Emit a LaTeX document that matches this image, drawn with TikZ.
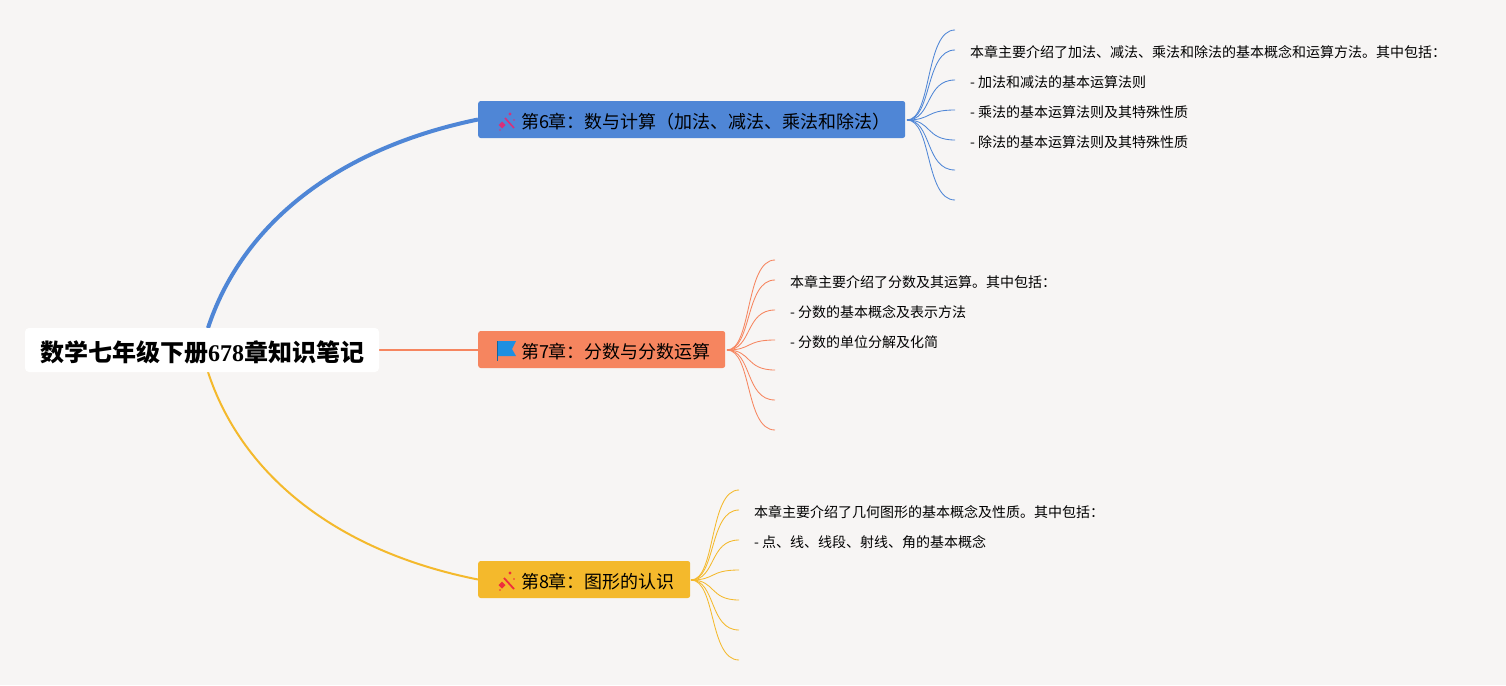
\documentclass[tikz,border=0pt]{standalone}
\usepackage{fontspec}
\setmainfont{Noto Sans CJK SC}
\newfontfamily\titledigits{Liberation Serif}
\definecolor{bgc}{HTML}{F7F5F4}
\definecolor{blueb}{HTML}{4F86D6}
\definecolor{orangeb}{HTML}{F6855F}
\definecolor{yellowb}{HTML}{F4B92C}
\definecolor{flagblue}{HTML}{1E8FE1}
\definecolor{wandpink}{HTML}{D9307A}
\definecolor{wandred}{HTML}{EE2F3C}
\tikzset{
 rootbox/.style={fill=white,rounded corners=4pt,minimum width=354pt,minimum height=44pt,inner sep=0pt},
 roottxt/.style={inner sep=0pt,font=\fontsize{24}{24}\selectfont\bfseries,text=black},
 chapbox/.style={rounded corners=2.5pt,minimum height=37pt,inner sep=0pt,anchor=west,text=black},
 chaptxt/.style={inner sep=0pt,anchor=west,font=\fontsize{18}{18}\selectfont,text=black},
 leaftxt/.style={inner sep=0pt,anchor=west,font=\fontsize{14}{14}\selectfont,text=black},
 leafline/.style={line width=0.85pt}
}
\begin{document}
\begin{tikzpicture}[x=1pt,y=-1pt]
\useasboundingbox (0,0) rectangle (1506,685);
\fill[bgc] (0,0) rectangle (1506,685);
% main branches
\coordinate (rt) at (208,328);
\coordinate (rb) at (208,372);
\coordinate (rr) at (379,350);
\node[chapbox,fill=blueb,minimum width=427pt] (c6) at (478,119.5) {};
\node[chapbox,fill=orangeb,minimum width=247pt] (c7) at (478,349.5) {};
\node[chapbox,fill=yellowb,minimum width=212pt] (c8) at (478,579.5) {};
\draw[blueb,line width=4pt] (rt) .. controls (240,230) and (330,150) .. (c6.west);
\draw[yellowb,line width=2pt] (rb) .. controls (240,470) and (330,550) .. (c8.west);
\draw[orangeb,line width=2pt] (rr) -- (c7.west |- rr);
\node[rootbox] (root) at (202,350) {};
\node[roottxt] (roott) at (202,352) {数学七年级下册{\titledigits 678}章知识笔记};
% chapter labels
\node[chaptxt] (t6) at (521,121.5) {第6\kern-1pt 章：数与计算（加法、减法、乘法和除法）};
\node[chaptxt] (t7) at (521,351.5) {第7\kern-1pt 章：分数与分数运算};
\node[chaptxt] (t8) at (521,581.5) {第8\kern-1pt 章：图形的认识};
% icons
\draw[wandpink,line width=1.6pt] (505,118) -- (514,128);
\fill[wandpink] (498.5,125) -- (502,121.5) -- (505.5,125) -- (502,128.5) -- cycle;
\fill[wandpink] (510,114) circle (1.7pt);
\fill[wandpink] (514,120) circle (0.8pt);
\fill[wandpink] (500,130) circle (0.8pt);
\fill[flagblue] (497,341) -- (516,341) -- (512,349) -- (516,356) -- (498,356) -- cycle;
\fill[flagblue!70!black] (497,341) rectangle (498.2,360.5);
\draw[wandred,line width=1.8pt] (504,578) -- (514,589);
\fill[wandred] (498.5,585) -- (502,581.5) -- (505.5,585) -- (502,588.5) -- cycle;
\fill[wandred] (510,573) circle (1.7pt);
\fill[wandred] (514,579) circle (0.8pt);
\fill[wandred] (500,590) circle (0.8pt);
% blue leaves
\coordinate (c6o) at (907,120);
\foreach \n/\y in {a/30,b/50,c/80,d/110,e/140,f/170,g/200}{
 \coordinate (b\n) at (955,\y);
 \draw[blueb,leafline] (c6o) .. controls (932,120) and (925,\y) .. (b\n);
}
\node[leaftxt] (b1) at (970,52) {本章主要介绍了加法、减法、乘法和除法的基本概念和运算方法。其中包括：};
\node[leaftxt] (b2) at (970,82) {- 加法和减法的基本运算法则};
\node[leaftxt] (b3) at (970,112) {- 乘法的基本运算法则及其特殊性质};
\node[leaftxt] (b4) at (970,142) {- 除法的基本运算法则及其特殊性质};
% orange leaves
\coordinate (c7o) at (727,350);
\foreach \n/\y in {a/260,b/280,c/310,d/340,e/370,f/400,g/430}{
 \coordinate (o\n) at (775,\y);
 \draw[orangeb,leafline] (c7o) .. controls (752,350) and (745,\y) .. (o\n);
}
\node[leaftxt] (o1) at (790,282) {本章主要介绍了分数及其运算。其中包括：};
\node[leaftxt] (o2) at (790,312) {- 分数的基本概念及表示方法};
\node[leaftxt] (o3) at (790,342) {- 分数的单位分解及化简};
% yellow leaves
\coordinate (c8o) at (691,580);
\foreach \n/\y in {a/490,b/510,c/540,d/570,e/600,f/630,g/660}{
 \coordinate (y\n) at (739,\y);
 \draw[yellowb,leafline] (c8o) .. controls (716,580) and (709,\y) .. (y\n);
}
\node[leaftxt] (y1) at (754,512) {本章主要介绍了几何图形的基本概念及性质。其中包括：};
\node[leaftxt] (y2) at (754,542) {- 点、线、线段、射线、角的基本概念};
\end{tikzpicture}
\end{document}
